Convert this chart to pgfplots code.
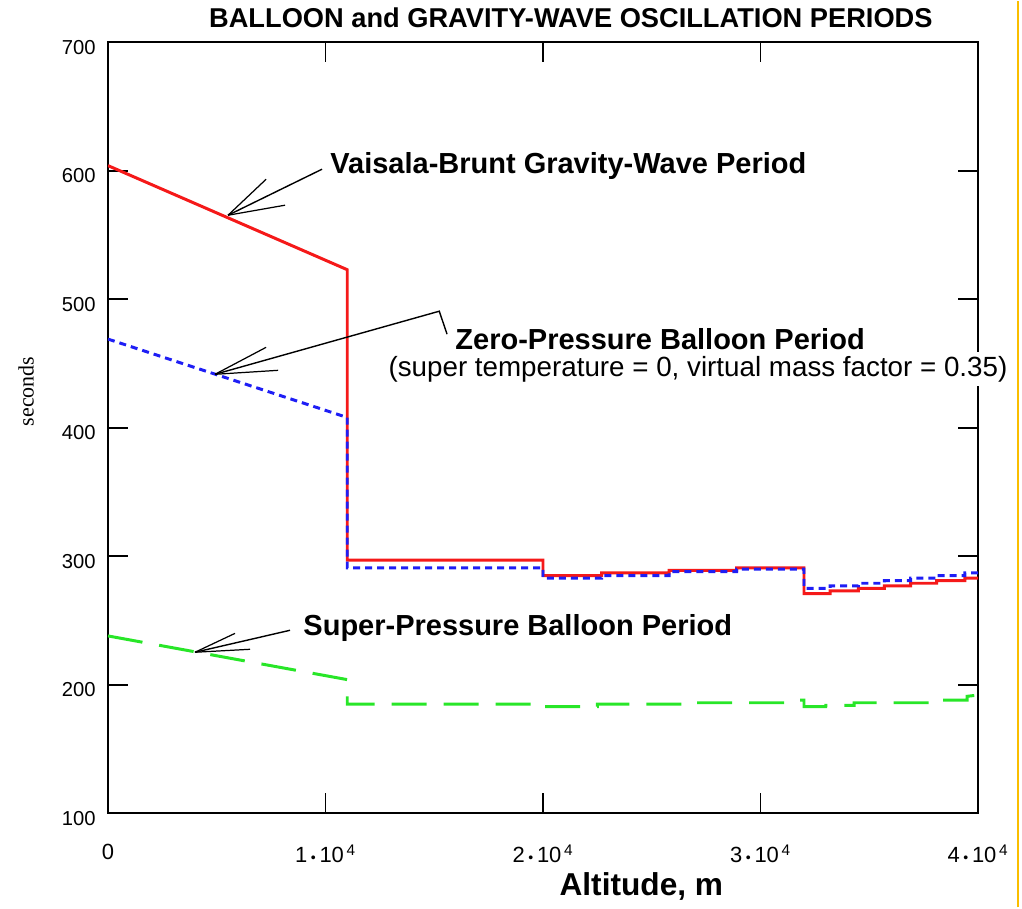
\documentclass[border=0pt]{standalone}
\usepackage{fontspec}
\setmainfont{Liberation Sans}
\newfontfamily\seriffont{Liberation Serif}
\usepackage{pgfplots}
\pgfplotsset{compat=1.18}
\definecolor{vbred}{RGB}{245,25,25}
\definecolor{zpblue}{RGB}{30,30,245}
\definecolor{spgreen}{RGB}{40,230,40}
\definecolor{edgegold}{RGB}{250,190,0}

\newcommand{\tenk}[1]{#1\,{\footnotesize•}\,10\textsuperscript{\,4}}

\begin{document}
\begin{tikzpicture}
\begin{axis}[
    scale only axis,
    width=174mm, height=154.2mm,
    xmin=0, xmax=40000, ymin=100, ymax=700,
    clip mode=individual,
    scaled x ticks=false,
    xtick={0,10000,20000,30000,40000},
    xticklabels={0, \tenk{1}, \tenk{2}, \tenk{3}, \tenk{4}},
    ytick={100,200,...,700},
    xtick pos=both, ytick pos=both,
    xticklabel pos=lower, yticklabel pos=left,
    tick align=inside,
    major tick length=4mm,
    axis line style={line width=1.1pt},
    tick style={line width=1pt, black},
    /pgf/number format/assume math mode=true,
    yticklabel style={font=\fontsize{11.5}{12}\selectfont, inner sep=0pt, xshift=-2.4mm, yshift=-1mm},
    xticklabel style={font=\fontsize{12.5}{13}\selectfont, inner sep=0pt, yshift=-6.2mm},
    title={BALLOON and GRAVITY-WAVE OSCILLATION PERIODS},
    title style={font=\bfseries\fontsize{15.5}{16}\selectfont,
        at={(axis description cs:0.532,1)}, anchor=base, yshift=0.8mm},
    xlabel={Altitude, m},
    xlabel style={font=\bfseries\fontsize{18}{19}\selectfont,
        at={(axis description cs:0.613,0)}, anchor=base, yshift=-16.4mm},
    ylabel={seconds},
    ylabel style={font=\seriffont\fontsize{12.5}{14}\selectfont,
        at={(axis description cs:-0.094,0.547)}, anchor=center},
]
% Vaisala-Brunt gravity-wave period
\addplot[vbred, line width=1.7pt] coordinates {
    (0,604) (11000,523) (11000,297) (20000,297) (20000,285)
    (22700,285) (22700,287) (25800,287) (25800,289) (28900,289)
    (28900,291) (32000,291) (32000,271) (33200,271) (33200,273)
    (34500,273) (34500,275) (35700,275) (35700,277) (36900,277)
    (36900,279) (38100,279) (38100,281) (39400,281) (39400,283)
    (40000,283)};
% zero-pressure balloon period
\addplot[zpblue, line width=1.7pt, dash pattern=on 1.4mm off 1mm] coordinates {
    (0,469) (11000,408) (11000,291) (20000,291) (20000,283)
    (22700,283) (22700,285) (25800,285) (25800,288) (28900,288)
    (28900,290) (32000,290) (32000,275) (33200,275) (33200,277)
    (34500,277) (34500,279) (35700,279) (35700,281) (36900,281)
    (36900,283) (38100,283) (38100,285) (39400,285) (39400,287)
    (40000,287)};
% super-pressure balloon period
\addplot[spgreen, line width=1.7pt, dash pattern=on 7mm off 3.4mm] coordinates {
    (0,238) (11000,204) (11000,185) (20000,185) (20000,183)
    (22500,183) (22500,185) (26500,185) (26500,186) (31500,186)
    (31600,188) (32000,188) (32000,183) (33000,183) (33000,184)
    (34300,184) (34300,186) (37800,186) (37800,188) (39500,188)
    (39500,191) (40000,192)};

% annotations
\draw[line width=0.8pt] (axis cs:5520,565.4) -- (axis cs:9840,601.2);
\draw[line width=0.7pt] (axis cs:5520,565.4) -- (axis cs:7270,593.4);
\draw[line width=0.7pt] (axis cs:5520,565.4) -- (axis cs:8140,573.2);
\node[anchor=west, inner sep=0pt, font=\bfseries\fontsize{16.5}{17}\selectfont]
    at (axis cs:10210,603.5) {Vaisala-Brunt Gravity-Wave Period};

\draw[line width=0.8pt] (axis cs:4920,441.6) -- (axis cs:15230,490.7) -- (axis cs:15590,472.8);
\draw[line width=0.7pt] (axis cs:4920,441.6) -- (axis cs:7270,462.6);
\draw[line width=0.7pt] (axis cs:4920,441.6) -- (axis cs:7820,444.7);
\node[anchor=west, inner sep=0pt, font=\bfseries\fontsize{16.5}{17}\selectfont]
    at (axis cs:15960,469) {Zero-Pressure Balloon Period};
\node[anchor=west, inner sep=0.8mm, fill=white, font=\fontsize{15.8}{16}\selectfont]
    at (axis cs:12700,445.5) {(super temperature = 0, virtual mass factor = 0.35)};

\draw[line width=0.8pt] (axis cs:4000,225.3) -- (axis cs:8370,242.4);
\draw[line width=0.7pt] (axis cs:4000,225.3) -- (axis cs:5840,240);
\draw[line width=0.7pt] (axis cs:4000,225.3) -- (axis cs:6530,227.6);
\node[anchor=west, inner sep=0pt, font=\bfseries\fontsize{16.5}{17}\selectfont]
    at (axis cs:8970,244) {Super-Pressure Balloon Period};
\end{axis}
\pgfresetboundingbox
\path ([shift={(-21.6mm,-18.8mm)}]current axis.south west) rectangle ++(204.4mm,181.2mm);
\draw[edgegold, line width=0.5mm] ([shift={(182mm,-18.8mm)}]current axis.south west) -- ++(0,181.2mm);
\end{tikzpicture}
\end{document}
